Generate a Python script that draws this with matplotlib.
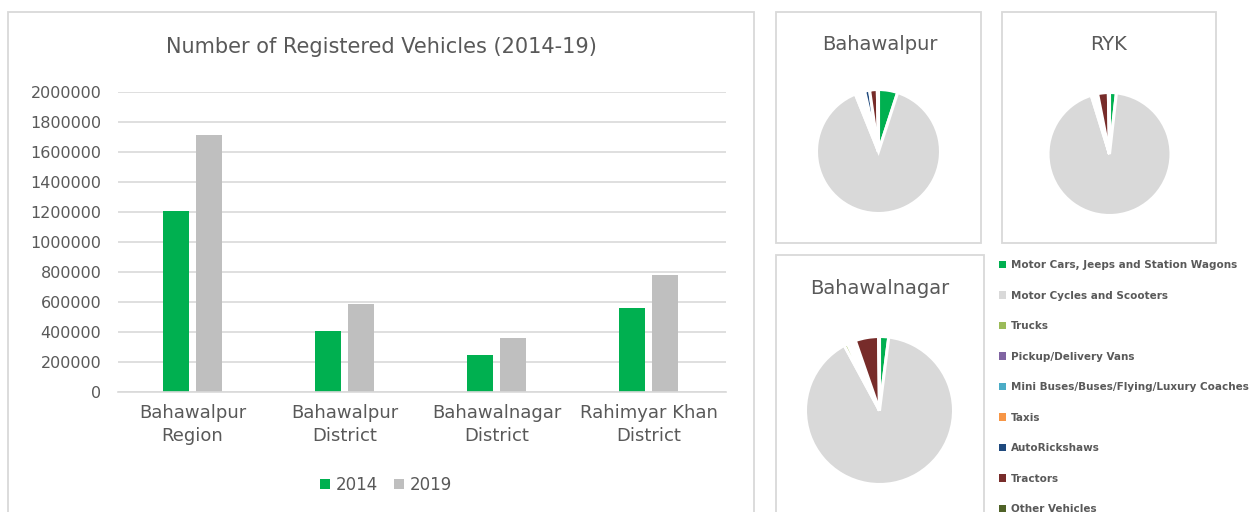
"""Registered vehicles in Bahawalpur region: bar comparison plus composition pies."""

import matplotlib.pyplot as plt
import numpy as np
from matplotlib.patches import Patch, Rectangle

W, H = 1255, 512

# ---- data ----
regions = ["Bahawalpur\nRegion", "Bahawalpur\nDistrict", "Bahawalnagar\nDistrict", "Rahimyar Khan\nDistrict"]
years = ["2014", "2019"]
vehicles_2014 = [1207000, 407000, 247000, 560000]
vehicles_2019 = [1713000, 587000, 360000, 780000]

vehicle_types = [
    "Motor Cars, Jeeps and Station Wagons",
    "Motor Cycles and Scooters",
    "Trucks",
    "Pickup/Delivery Vans",
    "Mini Buses/Buses/Flying/Luxury Coaches",
    "Taxis",
    "AutoRickshaws",
    "Tractors",
    "Other Vehicles",
]
# share of registered vehicles (%)
share_bahawalpur = [5.0, 88.9, 0.8, 0.7, 0.6, 0.4, 1.3, 2.0, 0.3]
share_ryk = [1.8, 93.4, 0.5, 0.4, 0.4, 0.1, 0.3, 2.8, 0.3]
share_bahawalnagar = [2.0, 90.1, 0.8, 0.7, 0.5, 0.2, 0.4, 5.1, 0.2]

type_colors = ["#00B050", "#D9D9D9", "#9BBB59", "#8064A2", "#4BACC6",
               "#F79646", "#1F497D", "#772C2A", "#4F6228"]
bar_colors = ["#00B050", "#BFBFBF"]
TEXT = "#595959"
BORDER = "#D9D9D9"

plt.rcParams["font.family"] = ["DejaVu Sans"]


def fx(px):
    return px / W


def fy(py):
    return 1 - py / H


def panel(fig, x0, y0, x1, y1):
    fig.add_artist(Rectangle((fx(x0), fy(y1)), fx(x1 - x0), (y1 - y0) / H,
                             transform=fig.transFigure, fill=False,
                             edgecolor=BORDER, linewidth=1.3))


PIE_LIM = 1.1


def pie_axes(fig, cx, cy, r):
    size = 2 * PIE_LIM * r
    ax = fig.add_axes([fx(cx - size / 2), fy(cy + size / 2), size / W, size / H])
    return ax


fig = plt.figure(figsize=(W / 100, H / 100), dpi=100)

# panel borders
panel(fig, 8, 12, 754, 530)
panel(fig, 776, 12, 981, 243)
panel(fig, 1002, 12, 1216, 243)
panel(fig, 776, 255, 984, 530)

# ---- bar chart ----
ax = fig.add_axes([fx(118), fy(392), fx(726 - 118), 300 / H])
x = np.arange(len(regions))
width = 0.17
b1 = ax.bar(x - 0.106, vehicles_2014, width, color=bar_colors[0], label=years[0])
b2 = ax.bar(x + 0.106, vehicles_2019, width, color=bar_colors[1], label=years[1])
ax.set_ylim(0, 2000000)
ax.set_xlim(-0.49, 3.51)
ax.set_yticks(np.arange(0, 2000001, 200000))
ax.set_yticklabels([f"{v}" for v in range(0, 2000001, 200000)])
ax.set_xticks(x)
ax.set_xticklabels(regions, linespacing=1.3)
ax.yaxis.grid(True, color=BORDER, linewidth=1.2)
ax.set_axisbelow(True)
for s in ["top", "right", "left"]:
    ax.spines[s].set_visible(False)
ax.spines["bottom"].set_color(BORDER)
ax.spines["bottom"].set_linewidth(1.2)
ax.tick_params(axis="y", length=0, pad=12, labelsize=11.5, labelcolor=TEXT)
ax.tick_params(axis="x", length=0, pad=9, labelsize=13, labelcolor=TEXT)

fig.text(fx(381), fy(47), "Number of Registered Vehicles (2014-19)",
         ha="center", va="center", fontsize=15, color=TEXT)

fig.legend(handles=[b1, b2], labels=years, loc="center", bbox_to_anchor=(fx(386), fy(485)),
           ncol=2, frameon=False, fontsize=12, labelcolor=TEXT,
           handlelength=0.6, handleheight=0.6, handletextpad=0.3, columnspacing=1.0)

# ---- pies (thick white slice borders, like the source) ----
pie_specs = [
    ("Bahawalpur", share_bahawalpur, 878.5, 151.5, 62.0, 880, 45),
    ("RYK", share_ryk, 1109.5, 154.0, 61.5, 1109, 45),
    ("Bahawalnagar", share_bahawalnagar, 879.5, 410.5, 74.0, 880, 289),
]
for name, shares, cx, cy, r, tx, ty in pie_specs:
    pax = pie_axes(fig, cx, cy, r)
    pax.pie(shares, colors=type_colors, startangle=90, counterclock=False, radius=1,
            wedgeprops=dict(edgecolor="white", linewidth=2.2))
    pax.set_xlim(-PIE_LIM, PIE_LIM)
    pax.set_ylim(-PIE_LIM, PIE_LIM)
    pax.set_aspect("equal")
    pax.axis("off")
    fig.text(fx(tx), fy(ty), name, ha="center", va="center", fontsize=14, color=TEXT)

legend_handles = [Patch(facecolor=c, edgecolor="none") for c in type_colors]
fig.legend(handles=legend_handles, labels=vehicle_types, loc="upper left",
           bbox_to_anchor=(fx(997), fy(258)), frameon=False,
           prop=dict(size=7.5, weight="bold"), labelcolor=TEXT,
           handlelength=0.7, handleheight=0.7, handletextpad=0.4, labelspacing=1.97,
           borderaxespad=0, borderpad=0.2)

fig.savefig("out.png", dpi=100)
